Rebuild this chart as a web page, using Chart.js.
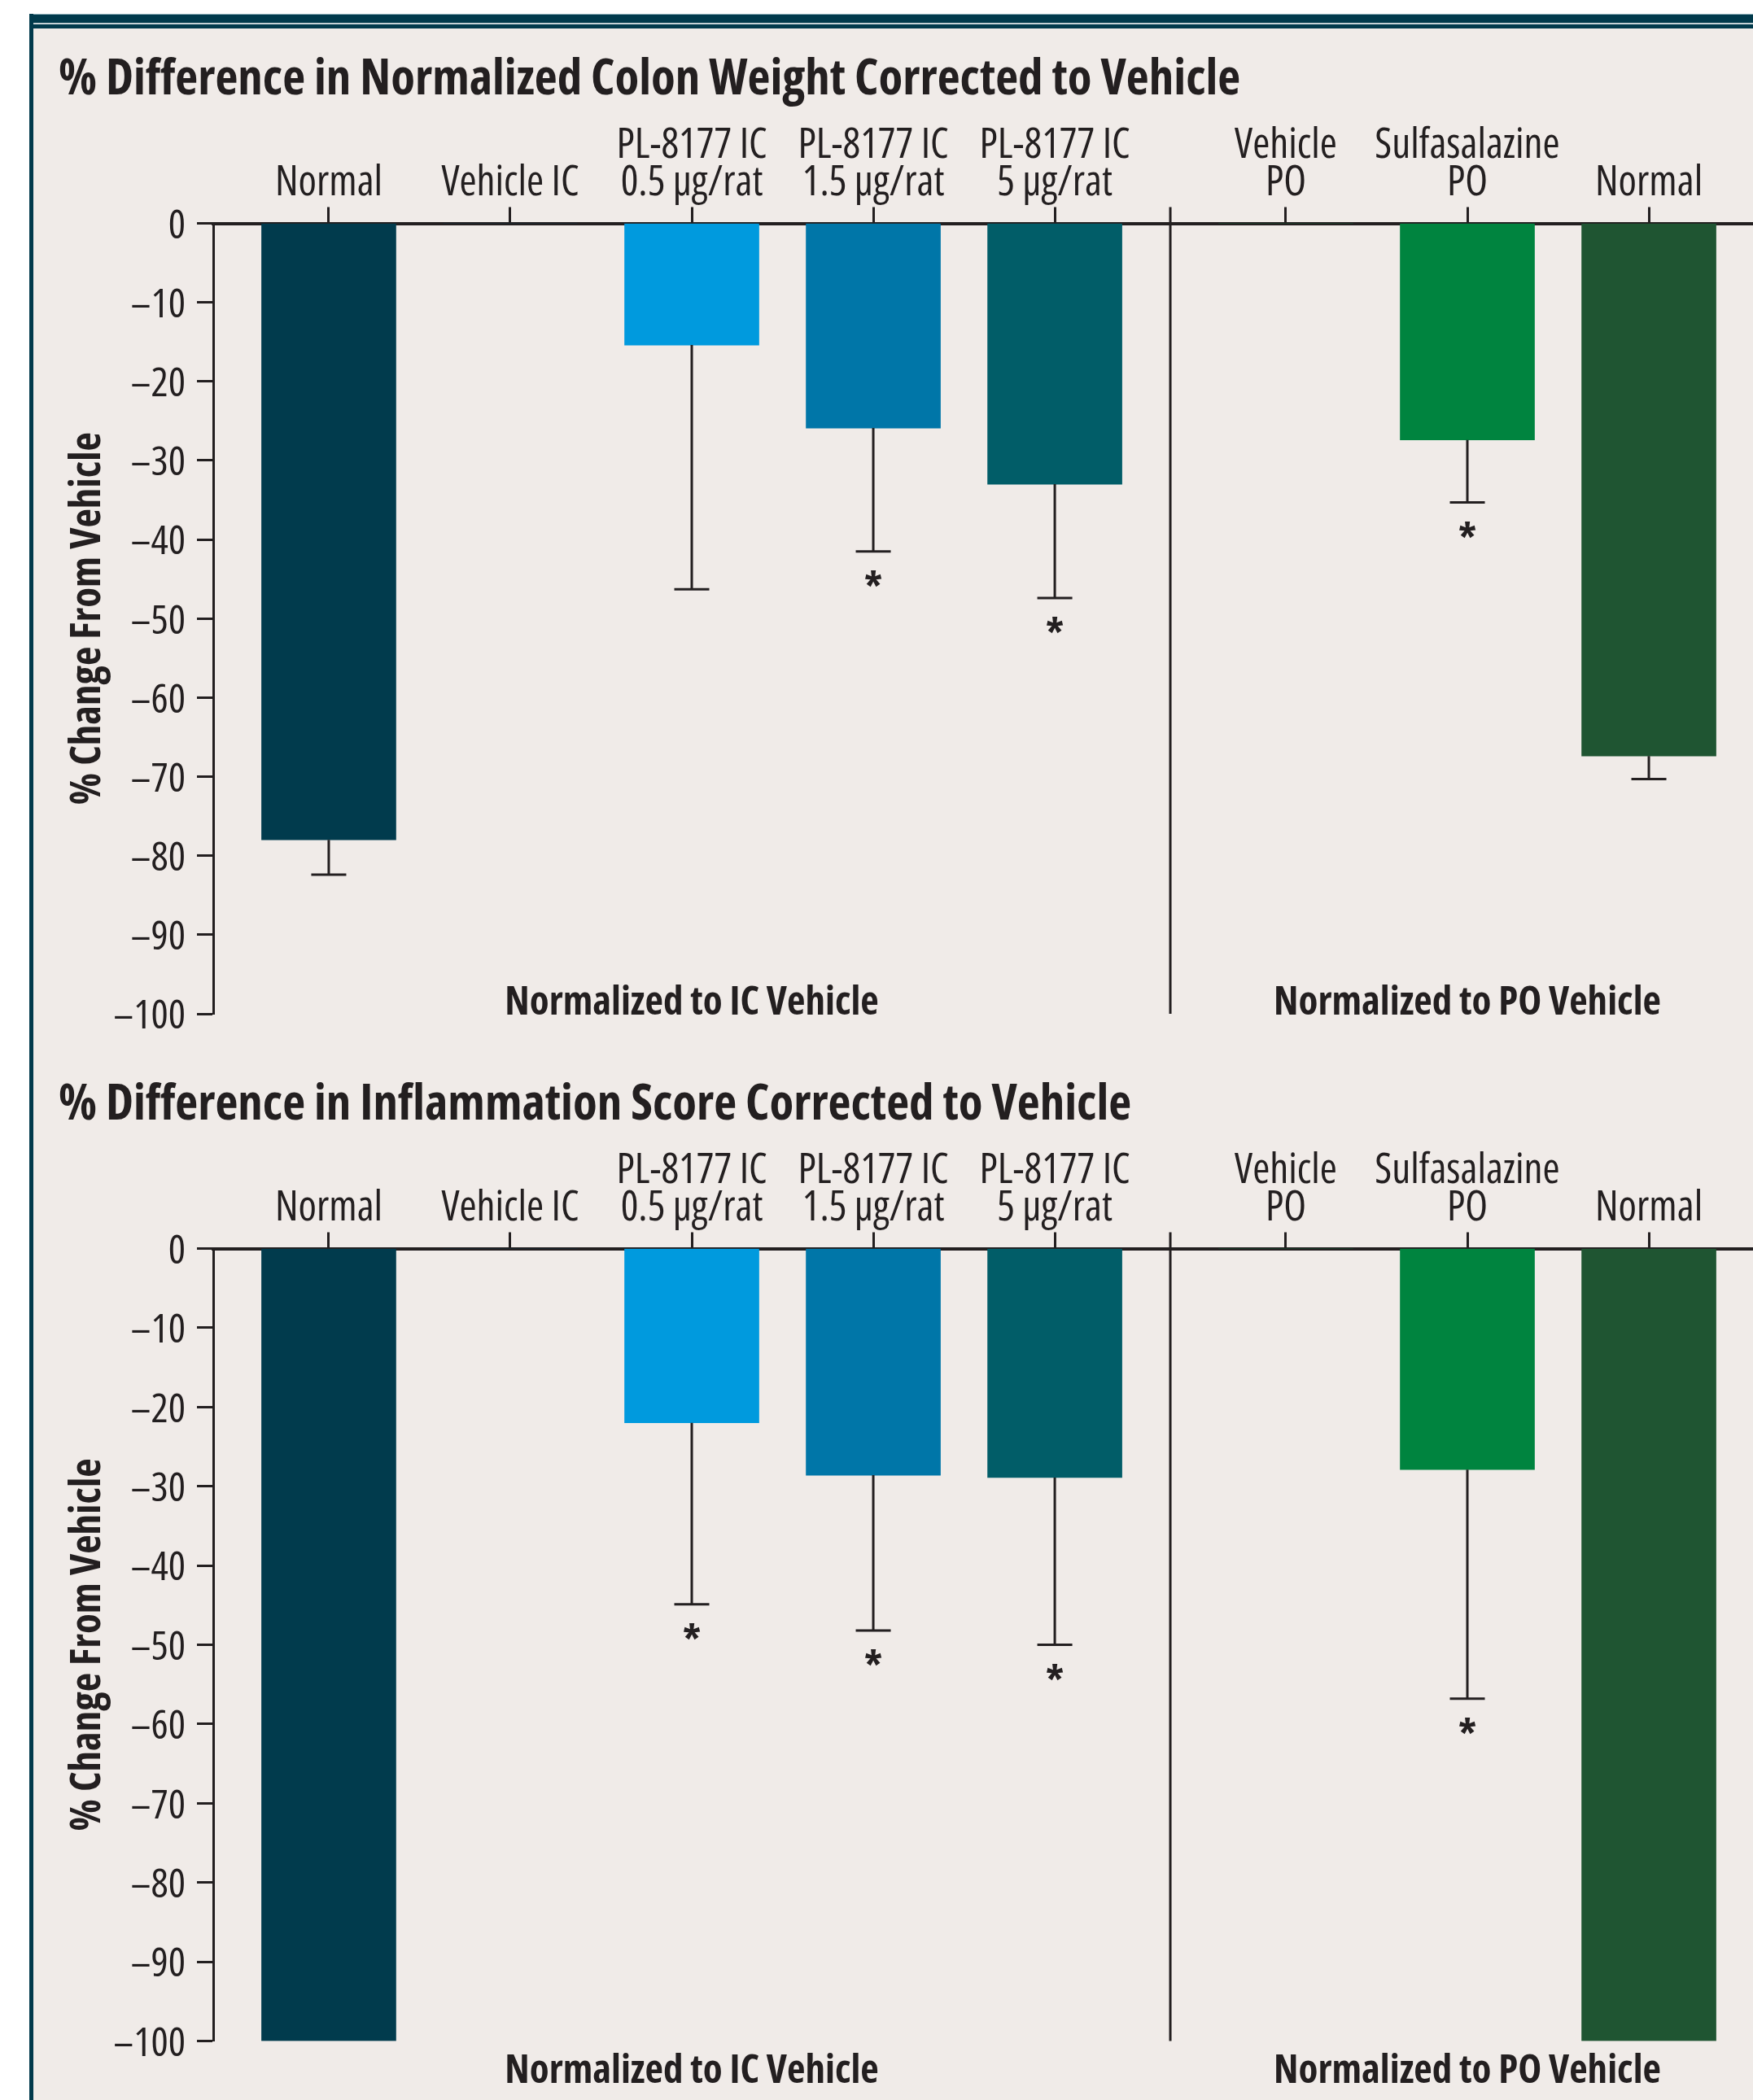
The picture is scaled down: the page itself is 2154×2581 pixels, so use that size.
<!DOCTYPE html>
<html>
<head>
<meta charset="utf-8">
<title>PL-8177 colon weight and inflammation score</title>
<script src="https://cdn.jsdelivr.net/npm/chart.js@4.4.1/dist/chart.umd.min.js"></script>
<style>
  html, body { margin: 0; padding: 0; background: #ffffff; }
  body { position: relative; width: 2154px; height: 2581px; overflow: hidden; }
  .frame-part { position: absolute; }
  #bandLight1 { left: 36px; top: 17px; width: 2200px; height: 1px; background: #8fb0ba; }
  #bandDark1  { left: 36px; top: 18px; width: 2200px; height: 10px; background: #013a4c; }
  #bandLight2 { left: 36px; top: 28px; width: 2200px; height: 2px; background: #c6d2d6; }
  #bandDark2  { left: 36px; top: 30px; width: 2200px; height: 5px; background: #013a4c; }
  #sideDark   { left: 36px; top: 17px; width: 5px; height: 2600px; background: #013a4c; }
  #panelBg    { left: 41px; top: 35px; width: 2200px; height: 2600px; background: #f0ebe8; }
  canvas { position: absolute; left: 41px; }
  #colonChart { top: 35px; }
  #inflamChart { top: 1295px; }
</style>
</head>
<body>
<div class="frame-part" id="panelBg"></div>
<div class="frame-part" id="bandLight1"></div>
<div class="frame-part" id="bandDark1"></div>
<div class="frame-part" id="bandLight2"></div>
<div class="frame-part" id="bandDark2"></div>
<div class="frame-part" id="sideDark"></div>
<canvas id="colonChart" width="2165" height="1255"></canvas>
<canvas id="inflamChart" width="2165" height="1286"></canvas>

<script>
// ---- data ----
const categories = [
  ['Normal'],
  ['Vehicle IC'],
  ['PL-8177 IC', '0.5 µg/rat'],
  ['PL-8177 IC', '1.5 µg/rat'],
  ['PL-8177 IC', '5 µg/rat'],
  ['Vehicle', 'PO'],
  ['Sulfasalazine', 'PO'],
  ['Normal']
];
const groupOf = [0, 0, 0, 0, 0, 1, 1, 1];
const groupLabels = ['Normalized to IC Vehicle', 'Normalized to PO Vehicle'];
const yTicks = [0, -10, -20, -30, -40, -50, -60, -70, -80, -90, -100];

const colonTitle = '% Difference in Normalized Colon Weight Corrected to Vehicle';
const colonWeight       = [-78.0, 0, -15.4, -25.9, -33.0, 0, -27.4, -67.4];
const colonWeightErrLow = [-82.4, null, -46.3, -41.5, -47.4, null, -35.3, -70.3];
const colonWeightSig    = [false, false, false, true, true, false, true, false];

const inflamTitle = '% Difference in Inflammation Score Corrected to Vehicle';
const inflamScore       = [-100, 0, -22.0, -28.6, -28.9, 0, -27.9, -100];
const inflamScoreErrLow = [null, null, -44.9, -48.2, -50.0, null, -56.8, null];
const inflamScoreSig    = [false, false, true, true, true, false, true, false];

const yTitle = '% Change From Vehicle';

// ---- styles ----
const barColors = ['#013b4d', '#013b4d', '#009ade', '#0076a8', '#015d68', '#00843f', '#00843f', '#1f5532'];
const TEXT = '#231f20';
const FAMILY = "'Open Sans', 'Roboto Condensed', sans-serif";
const REGULAR = 'condensed';        // condensed width, normal weight
const BOLD = 'condensed bold';
const GROUP_GAP = 0.273;            // extra space (in category widths) between the IC and PO groups

Chart.defaults.font.family = FAMILY;
Chart.defaults.font.weight = REGULAR;
Chart.defaults.color = TEXT;

// category centres on a linear axis, with a gap between groups
const xPos = categories.map((_, i) => i + groupOf[i] * GROUP_GAP);
const xMin = -0.5 - GROUP_GAP / 2;
const xMax = xPos[xPos.length - 1] + 0.5 + GROUP_GAP / 2;
const groupBounds = [];
for (let i = 1; i < xPos.length; i++) {
  if (groupOf[i] !== groupOf[i - 1]) groupBounds.push((xPos[i - 1] + xPos[i]) / 2);
}
const groupEdges = [xMin, ...groupBounds, xMax];

// error bars, significance marks, group separators and group captions
const panelDecor = {
  id: 'panelDecor',
  afterDatasetsDraw(chart, args, opts) {
    const { ctx, chartArea, scales: { x, y } } = chart;
    ctx.save();
    ctx.strokeStyle = TEXT;
    ctx.fillStyle = TEXT;
    ctx.lineWidth = 3;
    ctx.lineCap = 'butt';

    groupBounds.forEach(b => {
      const px = x.getPixelForValue(b);
      ctx.beginPath();
      ctx.moveTo(px, chartArea.top - 20);
      ctx.lineTo(px, chartArea.bottom);
      ctx.stroke();
    });

    ctx.font = `${BOLD} 50px ${FAMILY}`;
    ctx.textAlign = 'center';
    ctx.textBaseline = 'alphabetic';
    const star = ctx.measureText('*');
    const starShift = (star.actualBoundingBoxAscent - star.actualBoundingBoxDescent) / 2;

    opts.errLow.forEach((lo, i) => {
      if (lo === null) return;
      const px = x.getPixelForValue(xPos[i]);
      const y0 = y.getPixelForValue(opts.values[i]);
      const y1 = y.getPixelForValue(lo);
      ctx.beginPath();
      ctx.moveTo(px, y0);
      ctx.lineTo(px, y1);
      ctx.moveTo(px - 21.5, y1);
      ctx.lineTo(px + 21.5, y1);
      ctx.stroke();
      if (opts.sig[i]) {
        ctx.fillText('*', px, y1 + 34 + starShift);
      }
    });

    ctx.font = `${BOLD} 49px ${FAMILY}`;
    groupLabels.forEach((label, g) => {
      const cx = (x.getPixelForValue(groupEdges[g]) + x.getPixelForValue(groupEdges[g + 1])) / 2;
      ctx.fillText(label, cx, chartArea.bottom + opts.labelDrop);
    });
    ctx.restore();
  }
};

function makePanel(canvasId, title, values, errLow, sig, bottomPad, labelDrop) {
  return new Chart(document.getElementById(canvasId), {
    type: 'bar',
    data: {
      datasets: [{
        data: values.map((v, i) => ({ x: xPos[i], y: v })),
        backgroundColor: barColors,
        borderWidth: 0,
        barThickness: 165
      }]
    },
    options: {
      responsive: false,
      animation: false,
      events: [],
      layout: { padding: { left: 31, right: 38, top: 0, bottom: bottomPad } },
      plugins: {
        legend: { display: false },
        tooltip: { enabled: false },
        title: {
          display: true,
          text: title,
          align: 'start',
          color: TEXT,
          font: { size: 61, weight: BOLD, lineHeight: 1.2 },
          padding: { top: 27.4, bottom: 0 }
        },
        panelDecor: { values, errLow, sig, labelDrop }
      },
      scales: {
        x: {
          type: 'linear',
          position: 'top',
          min: xMin,
          max: xMax,
          offset: false,
          z: 1,
          afterBuildTicks: axis => { axis.ticks = xPos.map(v => ({ value: v })); },
          afterFit: axis => { axis.height = 138.9; },
          grid: {
            drawOnChartArea: false,
            drawTicks: true,
            tickLength: 20,
            tickWidth: 3,
            tickColor: TEXT,
            offset: false
          },
          border: { display: true, color: TEXT, width: 4 },
          ticks: {
            autoSkip: false,
            maxRotation: 0,
            minRotation: 0,
            padding: 6,
            color: TEXT,
            font: { size: 51, weight: REGULAR, lineHeight: 0.9 },
            callback: (value, index) => categories[index]
          }
        },
        y: {
          type: 'linear',
          min: -100,
          max: 0,
          z: 1,
          afterBuildTicks: axis => { axis.ticks = yTicks.map(v => ({ value: v })); },
          afterFit: axis => { axis.width = 190; },
          grid: {
            drawOnChartArea: false,
            drawTicks: true,
            tickLength: 20,
            tickWidth: 3,
            tickColor: TEXT
          },
          border: { display: true, color: TEXT, width: 3 },
          ticks: {
            padding: 14,
            labelOffset: 4,
            color: TEXT,
            font: { size: 50, weight: REGULAR },
            callback: v => (v === 0 ? '0' : '\u2013' + Math.abs(v))
          },
          title: {
            display: true,
            text: yTitle,
            color: TEXT,
            font: { size: 51, weight: BOLD, lineHeight: 1.2 },
            padding: { top: 6, bottom: 0 }
          }
        }
      }
    },
    plugins: [panelDecor]
  });
}

makePanel('colonChart', colonTitle, colonWeight, colonWeightErrLow, colonWeightSig, 43.5, 1);
makePanel('inflamChart', inflamTitle, inflamScore, inflamScoreErrLow, inflamScoreSig, 72.5, 51);
</script>
</body>
</html>
